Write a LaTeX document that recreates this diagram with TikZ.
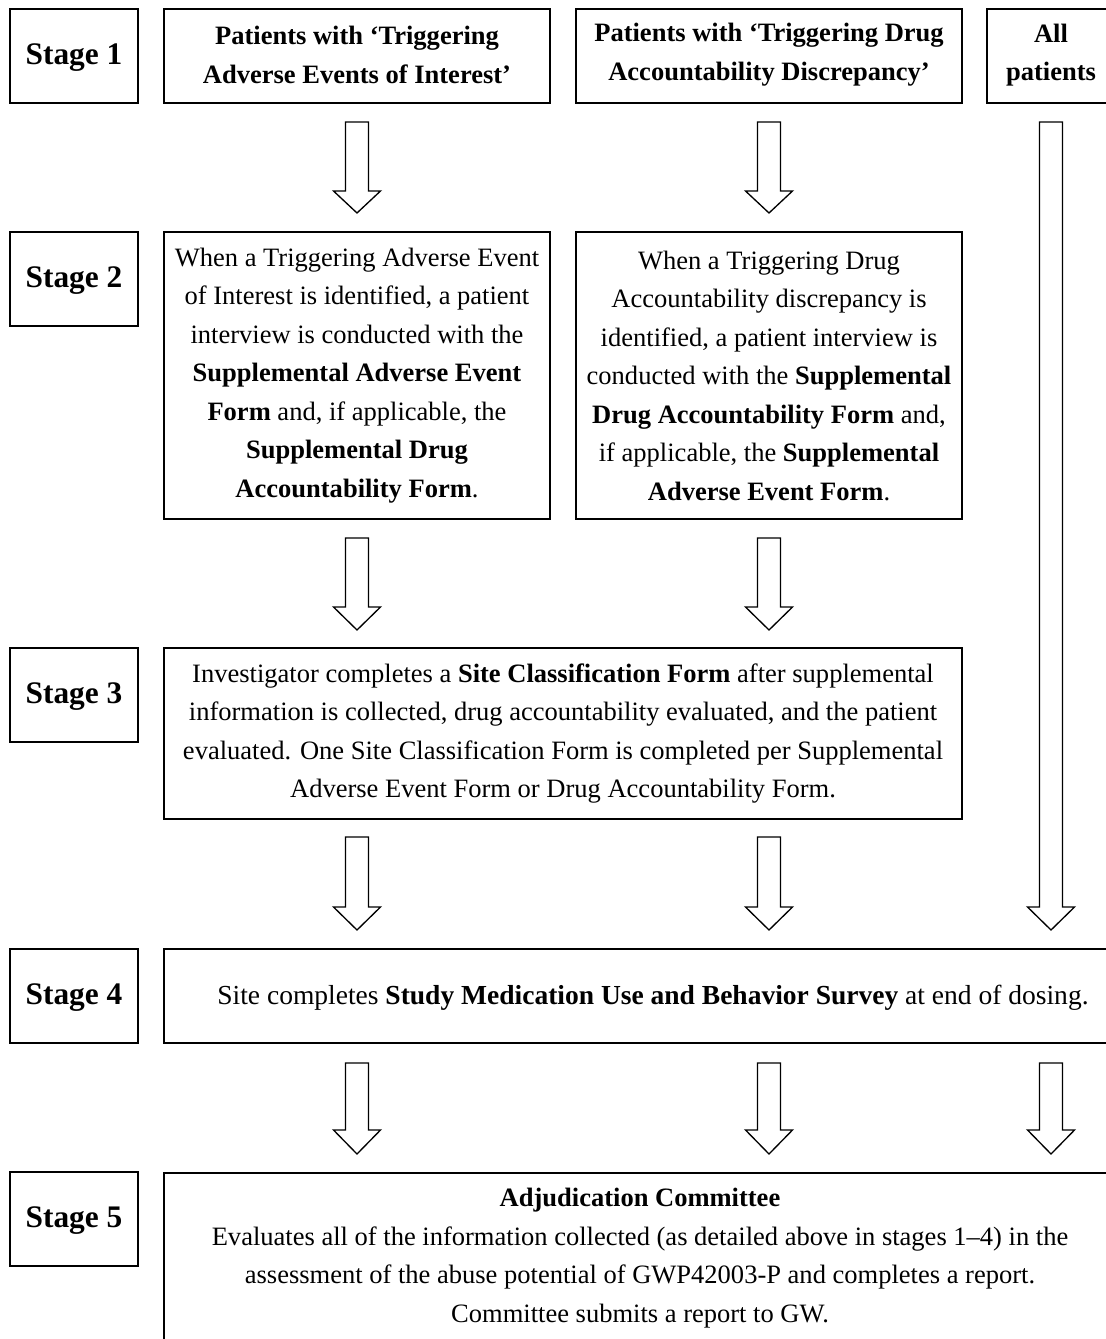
\documentclass[tikz,border=0pt]{standalone}
\usepackage{fontspec}
\setmainfont{Liberation Serif}
\usetikzlibrary{fit}
\newcommand{\blkarrow}[4]{%
  \draw[blockarr] ({#1-11.5},#2) -- ({#1+11.5},#2) -- ({#1+11.5},#3) -- ({#1+23.5},#3)
    -- (#1,#4) -- ({#1-23.5},#3) -- ({#1-11.5},#3) -- cycle;}
\begin{document}
\begin{tikzpicture}[x=0.4525pt,y=-0.4525pt,
  box/.style={draw, line width=0.65pt, inner sep=0pt},
  stagetxt/.style={font=\fontsize{14.2}{17}\selectfont\bfseries},
  txt/.style={align=center, font=\fontsize{12}{17.42}\selectfont},
  hdr/.style={align=center, font=\fontsize{12}{17.42}\selectfont\bfseries},
  blockarr/.style={draw, line width=0.6pt, fill=white, line join=miter}]
\useasboundingbox (0,0) rectangle (1106,1339);
\clip (0,0) rectangle (1106,1339);

% Stage labels
\node[box, fit={(10,9) (138,103)}] (st1) {};
\node[stagetxt] (st1t) at ([yshift=-0.9pt]st1.center) {Stage 1};
\node[box, fit={(10,232) (138,326)}] (st2) {};
\node[stagetxt] (st2t) at ([yshift=-0.9pt]st2.center) {Stage 2};
\node[box, fit={(10,648) (138,742)}] (st3) {};
\node[stagetxt] (st3t) at ([yshift=-0.9pt]st3.center) {Stage 3};
\node[box, fit={(10,949) (138,1043)}] (st4) {};
\node[stagetxt] (st4t) at ([yshift=-0.9pt]st4.center) {Stage 4};
\node[box, fit={(10,1172) (138,1266)}] (st5) {};
\node[stagetxt] (st5t) at ([yshift=-0.9pt]st5.center) {Stage 5};

% Stage 1
\node[box, fit={(164,9) (550,103)}] (h1) {};
\node[hdr] (h1t) at ([yshift=0.5pt]h1.center) {Patients with ‘Triggering\\Adverse Events of Interest’};
\node[box, fit={(576,9) (962,103)}] (h2) {};
\node[hdr] (h2t) at ([yshift=0.5pt]h2.center) {Patients with ‘Triggering Drug\\Accountability Discrepancy’};
\node[box, fit={(987,9) (1115,103)}] (h3) {};
\node[hdr] (h3t) at ([yshift=0.5pt]h3.center) {All\\patients};

% Stage 2
\node[box, fit={(164,232) (550,519)}] (b1) {};
\node[txt] (b1t) at (b1.center) {When a Triggering Adverse Event\\of Interest is identified, a patient\\interview is conducted with the\\\textbf{Supplemental Adverse Event}\\\textbf{Form} and, if applicable, the\\\textbf{Supplemental Drug}\\\textbf{Accountability Form}.};
\node[box, fit={(576,232) (962,519)}] (b2) {};
\node[txt] (b2t) at (b2.center) {When a Triggering Drug\\Accountability discrepancy is\\identified, a patient interview is\\conducted with the \textbf{Supplemental}\\\textbf{Drug Accountability Form} and,\\if applicable, the \textbf{Supplemental}\\\textbf{Adverse Event Form}.};

% Stage 3
\node[box, fit={(164,648) (962,819)}] (c1) {};
\node[txt] (c1t) at (c1.center) {Investigator completes a \textbf{Site Classification Form} after supplemental\\information is collected, drug accountability evaluated, and the patient\\evaluated. One Site Classification Form is completed per Supplemental\\Adverse Event Form or Drug Accountability Form.};

% Stage 4
\node[box, fit={(164,949) (1142,1043)}] (d1) {};
\node[txt, font=\fontsize{12.45}{17.42}\selectfont] (d1t) at (653,998) {Site completes \textbf{Study Medication Use and Behavior Survey} at end of dosing.};

% Stage 5
\node[box, fit={(164,1173) (1116,1380)}] (e1) {};
\node[txt] (e1t) at (640,1258) {\textbf{Adjudication Committee}\\Evaluates all of the information collected (as detailed above in stages 1–4) in the\\assessment of the abuse potential of GWP42003-P and completes a report.\\Committee submits a report to GW.};

% Arrows
\blkarrow{357}{122}{191}{213}
\blkarrow{769}{122}{191}{213}
\blkarrow{1051}{122}{907}{930}
\blkarrow{357}{538}{607}{630}
\blkarrow{769}{538}{607}{630}
\blkarrow{357}{837}{907}{930}
\blkarrow{769}{837}{907}{930}
\blkarrow{357}{1063}{1130}{1154}
\blkarrow{769}{1063}{1130}{1154}
\blkarrow{1051}{1063}{1130}{1154}
\end{tikzpicture}
\end{document}
